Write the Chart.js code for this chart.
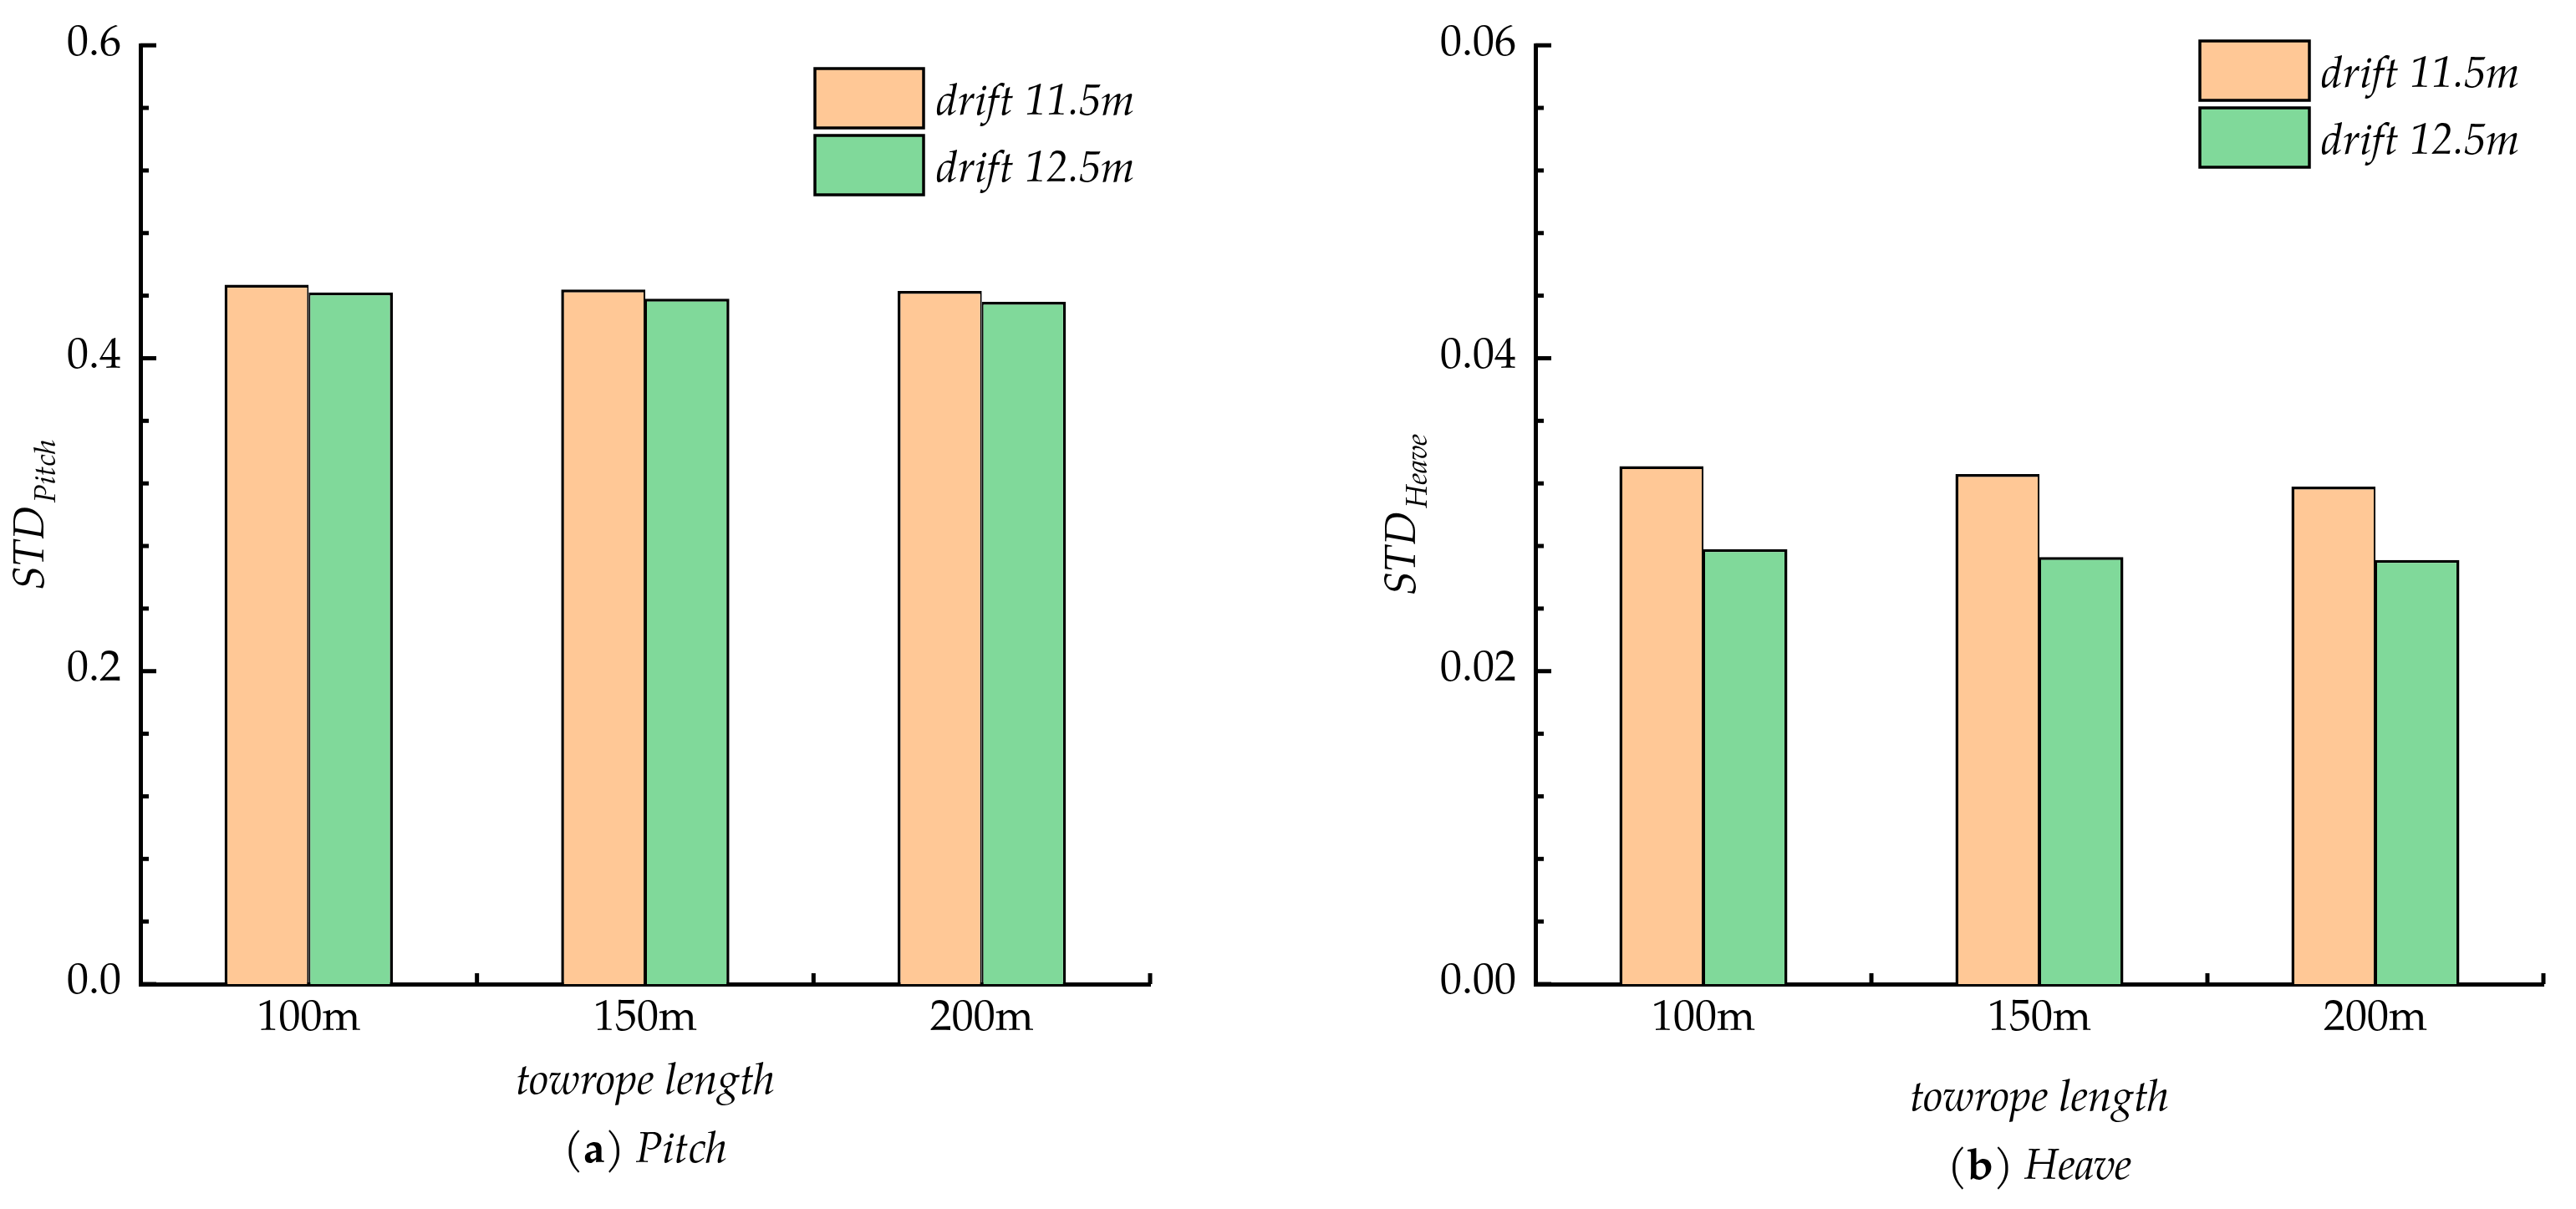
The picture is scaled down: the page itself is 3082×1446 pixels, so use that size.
<!DOCTYPE html>
<html><head><meta charset="utf-8">
<script src="https://cdn.jsdelivr.net/npm/chart.js@4.4.0/dist/chart.umd.min.js"></script>
<style>
html,body{margin:0;padding:0;background:#fff;}
#wrap{position:relative;width:3082px;height:1446px;overflow:hidden;background:#fff;}
canvas{position:absolute;top:0;}
.pre{position:absolute;left:-9999px;top:0;font-size:52px;font-family:"TeX Gyre Pagella";}
</style></head><body>
<div class="pre">100m <i>drift</i> <b>a</b></div>
<div id="wrap">
<canvas id="c1" width="1541" height="1446" style="left:0"></canvas>
<canvas id="c2" width="1541" height="1446" style="left:1541px"></canvas>
</div>
<script>
// ---- data ----
const categories = ['100m', '150m', '200m'];
const seriesLabels = ['drift 11.5m', 'drift 12.5m'];
const pitch115 = [0.447, 0.444, 0.443];
const pitch125 = [0.442, 0.438, 0.436];
const heave115 = [0.0331, 0.0326, 0.0318];
const heave125 = [0.0278, 0.0273, 0.0271];
const pitchTicks = ['0.0', '0.2', '0.4', '0.6'];
const heaveTicks = ['0.00', '0.02', '0.04', '0.06'];

const SERIF = '"TeX Gyre Pagella"';
const FS = 52;
const ORANGE = '#FFC896';
const GREEN = '#80D99A';

const deco = {
  id: 'deco',
  afterDraw(chart, args, o) {
    const ctx = chart.ctx, ca = chart.chartArea;
    const xs = chart.scales.x, ys = chart.scales.y;
    ctx.save();
    ctx.fillStyle = '#000'; ctx.strokeStyle = '#000';
    ctx.lineCap = 'butt';
    ctx.lineWidth = 5;
    const n = Math.round((ys.max - ys.min) / o.minorStep);
    for (let i = 0; i <= n; i++) {
      const py = ys.getPixelForValue(ys.min + i * o.minorStep);
      const len = (i % o.minorPer === 0) ? 19 : 10;
      ctx.beginPath(); ctx.moveTo(ca.left, py); ctx.lineTo(ca.left + len, py); ctx.stroke();
    }
    const half = (xs.getPixelForValue(1) - xs.getPixelForValue(0)) / 2;
    for (let i = 0; i < categories.length; i++) {
      const bx = xs.getPixelForValue(i) + half;
      ctx.beginPath(); ctx.moveTo(bx, ca.bottom); ctx.lineTo(bx, ca.bottom - 13); ctx.stroke();
    }
    const L = o.legend;
    chart.data.datasets.forEach((ds, i) => {
      const by = L.y + i * (L.h + L.gap);
      ctx.fillStyle = ds.backgroundColor;
      ctx.fillRect(L.x, by, L.w, L.h);
      ctx.lineWidth = 3.5;
      ctx.strokeRect(L.x, by, L.w, L.h);
      ctx.fillStyle = '#000';
      ctx.font = `italic ${FS}px ${SERIF}`;
      ctx.textAlign = 'left'; ctx.textBaseline = 'alphabetic';
      ctx.fillText(ds.label, L.x + L.w + L.textGap, by + L.h / 2 + 19);
    });
    ctx.save();
    const cy = (ca.top + ca.bottom) / 2;
    ctx.translate(o.yTitleX, cy);
    ctx.rotate(-Math.PI / 2);
    ctx.textAlign = 'left'; ctx.textBaseline = 'alphabetic';
    ctx.font = `italic ${FS}px ${SERIF}`;
    const w1 = ctx.measureText(o.yTitle).width + 4;
    ctx.font = `italic 36px ${SERIF}`;
    const w2 = ctx.measureText(o.ySub).width;
    const start = -(w1 + w2) / 2;
    ctx.font = `italic ${FS}px ${SERIF}`;
    ctx.fillText(o.yTitle, start, 0);
    ctx.font = `italic 36px ${SERIF}`;
    ctx.fillText(o.ySub, start + w1, 14);
    ctx.restore();
    const cx = (ca.left + ca.right) / 2;
    ctx.font = `italic ${FS}px ${SERIF}`;
    ctx.textAlign = 'center'; ctx.textBaseline = 'alphabetic';
    ctx.fillText(o.xTitle, cx, o.xTitleY);
    const parts = [
      { t: '(', f: `${FS}px ${SERIF}` },
      { t: o.capLetter, f: `bold ${FS}px ${SERIF}` },
      { t: ') ', f: `${FS}px ${SERIF}` },
      { t: o.capWord, f: `italic ${FS}px ${SERIF}` }
    ];
    let tot = 0;
    parts.forEach(p => { ctx.font = p.f; p.w = ctx.measureText(p.t).width; tot += p.w; });
    let x = cx - tot / 2;
    ctx.textAlign = 'left';
    parts.forEach(p => { ctx.font = p.f; ctx.fillText(p.t, x, o.capY); x += p.w; });
    ctx.restore();
  }
};

function makeChart(id, s1, s2, yMax, yStep, tickLabels, cfg) {
  return new Chart(document.getElementById(id), {
    type: 'bar',
    data: {
      labels: categories,
      datasets: [
        { label: seriesLabels[0], data: s1, backgroundColor: ORANGE, borderColor: '#000',
          borderWidth: { top: 3.5, left: 3.5, right: 2, bottom: 0 }, borderSkipped: 'bottom',
          categoryPercentage: 0.5, barPercentage: 1.0 },
        { label: seriesLabels[1], data: s2, backgroundColor: GREEN, borderColor: '#000',
          borderWidth: { top: 3.5, left: 2, right: 3.5, bottom: 0 }, borderSkipped: 'bottom',
          categoryPercentage: 0.5, barPercentage: 1.0 }
      ]
    },
    options: {
      responsive: false,
      animation: false,
      layout: { padding: { left: 0, top: 53, right: cfg.padRight, bottom: 169 } },
      plugins: {
        legend: { display: false },
        tooltip: { enabled: false },
        deco: cfg.deco
      },
      scales: {
        x: {
          type: 'category', offset: true,
          grid: { display: false, drawTicks: false },
          border: { display: true, width: 5, color: '#000' },
          ticks: { font: { family: SERIF, size: FS }, color: '#000', padding: 12, maxRotation: 0 },
          afterFit(s) { s.height = 100; }
        },
        y: {
          min: 0, max: yMax,
          grid: { display: false, drawTicks: false },
          border: { display: true, width: 5, color: '#000' },
          ticks: { stepSize: yStep, font: { family: SERIF, size: FS }, color: '#000', padding: 23,
                   callback: (v, i) => tickLabels[i] },
          afterFit(s) { s.width = cfg.yWidth; }
        }
      }
    },
    plugins: [deco]
  });
}

function build() {
  Chart.defaults.font.family = SERIF;
  makeChart('c1', pitch115, pitch125, 0.6, 0.2, pitchTicks, {
    padRight: 165, yWidth: 168,
    deco: { minorStep: 0.04, minorPer: 5, yTitle: 'STD', ySub: 'Pitch', yTitleX: 52,
            xTitle: 'towrope length', xTitleY: 1308, capLetter: 'a', capWord: 'Pitch', capY: 1390,
            legend: { x: 975, y: 82, w: 130, h: 71, gap: 9, textGap: 15 } }
  });
  makeChart('c2', heave115, heave125, 0.06, 0.02, heaveTicks, {
    padRight: 39, yWidth: 296,
    deco: { minorStep: 0.004, minorPer: 5, yTitle: 'STD', ySub: 'Heave', yTitleX: 152,
            xTitle: 'towrope length', xTitleY: 1328, capLetter: 'b', capWord: 'Heave', capY: 1410,
            legend: { x: 1091, y: 49, w: 131, h: 71, gap: 9, textGap: 14 } }
  });
}

let built = false;
function go() { if (!built) { built = true; build(); } }
if (document.fonts && document.fonts.load) {
  Promise.all([
    document.fonts.load('52px "TeX Gyre Pagella"'),
    document.fonts.load('italic 52px "TeX Gyre Pagella"'),
    document.fonts.load('bold 52px "TeX Gyre Pagella"')
  ]).then(go, go);
  setTimeout(go, 800);
} else { go(); }
</script>
</body></html>
